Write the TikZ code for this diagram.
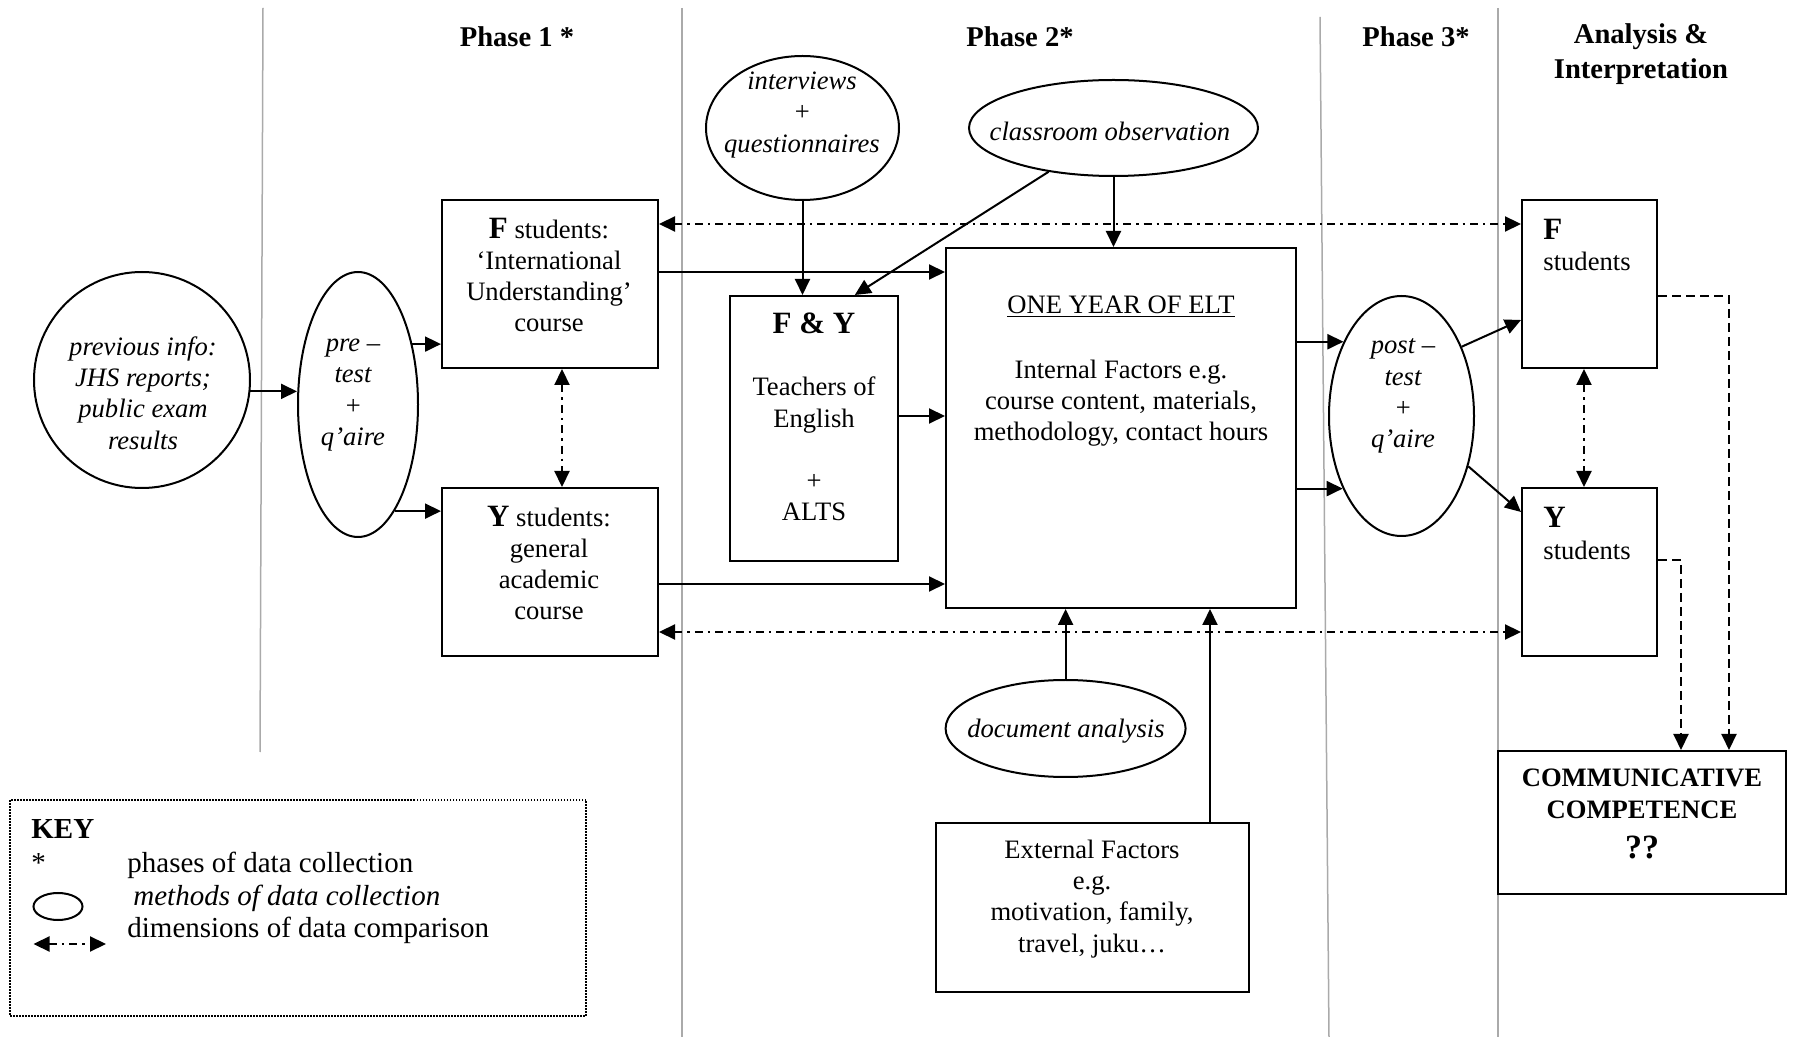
\documentclass[tikz,border=0pt]{standalone}
\usepackage{fontspec}
\setmainfont{Liberation Serif}
\usetikzlibrary{arrows.meta,shapes.geometric}
\definecolor{gline}{RGB}{170,170,170}
\newcommand{\dgBody}{\fontsize{13.3pt}{15.6pt}\selectfont}
\newcommand{\dgBig}{\fontsize{15.5pt}{15.6pt}\selectfont\bfseries}
\newcommand{\dgTitle}{\fontsize{14.3pt}{17.5pt}\selectfont\bfseries}
\newcommand{\dgKey}{\fontsize{14.5pt}{16pt}\selectfont}
\begin{document}
\begin{tikzpicture}[x=0.5pt,y=-0.5pt,
  >={Triangle[length=8pt,width=7.5pt]},
  shp/.style={draw, line width=1pt, inner sep=0pt},
  bx/.style={shp, rectangle},
  el/.style={shp, ellipse},
  t/.style={align=center, inner sep=0pt, font=\dgBody},
  it/.style={align=center, inner sep=0pt, font=\dgBody\itshape},
  kt/.style={inner sep=0pt, font=\dgKey, anchor=base west},
  ttl/.style={align=center, inner sep=0pt, font=\dgTitle},
  arr/.style={line width=1pt, ->},
  dd/.style={line width=1.1pt, <->, dash pattern=on 4pt off 2.5pt on 1.2pt off 2.5pt},
  dsh/.style={line width=1pt, ->, dash pattern=on 4.5pt off 2.5pt},
  gl/.style={draw=gline, line width=0.75pt}]
\useasboundingbox (0,0) rectangle (1796,1037);

% phase separators
\draw[gl] (263,8) -- (260,752);
\draw[gl] (682,8) -- (682,1037);
\draw[gl] (1320,17) -- (1329,1037);
\draw[gl] (1498,8) -- (1498,1037);

% titles
\node[ttl] (t1) at (517,37) {Phase 1 *};
\node[ttl] (t2) at (1020,37) {Phase 2*};
\node[ttl] (t3) at (1416,37) {Phase 3*};
\node[ttl] (t4) at (1641,54) {Analysis \&\\Interpretation};

% shapes
\node[el, minimum width=108pt, minimum height=108pt] (prev) at (142,380) {};
\node[el, minimum width=60pt, minimum height=132.5pt] (pre) at (358,404.5) {};
\node[bx, minimum width=108pt, minimum height=84pt] (Fbox) at (550,284) {};
\node[bx, minimum width=108pt, minimum height=84pt] (Ybox) at (550,572) {};
\node[el, minimum width=96.5pt, minimum height=72pt] (intv) at (802.5,128) {};
\node[el, minimum width=144.5pt, minimum height=48pt] (cobs) at (1113.5,128) {};
\node[bx, minimum width=84pt, minimum height=132.5pt] (FY) at (814,428.5) {};
\node[bx, minimum width=175pt, minimum height=180pt] (ELT) at (1121,428) {};
\node[el, minimum width=72.5pt, minimum height=120pt] (post) at (1401.5,416) {};
\node[bx, minimum width=67.5pt, minimum height=84pt] (Fres) at (1589.5,284) {};
\node[bx, minimum width=67.5pt, minimum height=84pt] (Yres) at (1589.5,572) {};
\node[bx, minimum width=144pt, minimum height=71.5pt] (CC) at (1642,822.5) {};
\node[el, minimum width=120pt, minimum height=48.5pt] (docan) at (1065.6,728.5) {};
\node[bx, minimum width=156.5pt, minimum height=84.5pt] (ext) at (1092.5,907.5) {};
\node[draw, line width=0.75pt, dash pattern=on 0.75pt off 0.75pt, inner sep=0pt,
      minimum width=288pt, minimum height=108pt] (key) at (298,908) {};
\node[el, minimum width=24.5pt, minimum height=13.5pt] (keyel) at (58,906.5) {};

% texts
\node[it] (prevT) at (143,393) {previous info:\\JHS reports;\\public exam\\results};
\node[it] (preT) at (353,395) {pre –\\test\\+\\q’aire};
\node[t] (FboxT) at (549,275) {{\dgBig F} students:\\‘International\\Understanding’\\course};
\node[t] (YboxT) at (549,563) {{\dgBig Y} students:\\general\\academic\\course};
\node[it] (intvT) at (802,115) {interviews\\+\\questionnaires};
\node[it] (cobsT) at (1110,131) {classroom observation};
\node[t] (FYT) at (814,417) {{\dgBig F \& Y}\\[15.6pt]Teachers of\\English\\[15.6pt]+\\ALTS};
\node[t] (ELTT) at (1121,371) {\underline{ONE YEAR OF ELT}\\[17pt]Internal Factors e.g.\\course content, materials,\\methodology, contact hours};
\node[it] (postT) at (1403,396) {post –\\test\\+\\q’aire};
\node[t, align=left, anchor=west] (FresT) at (1543,245) {{\dgBig F}\\students};
\node[t, align=left, anchor=west] (YresT) at (1543,533.5) {{\dgBig Y}\\students};
\node[t, font=\dgBody\bfseries] (CCT) at (1642,814) {COMMUNICATIVE\\COMPETENCE\\[4.5pt]{\fontsize{17pt}{15.6pt}\selectfont ??}};
\node[it] (docanT) at (1066,731) {document analysis};
\node[t] (extT) at (1092,899) {External Factors\\e.g.\\motivation, family,\\travel, juku…};

% key
\node[kt, font=\dgKey\bfseries] (keyT) at (31,839) {KEY};
\node[kt] (keyS) at (31,872) {*};
\node[kt] (keyA) at (127,872) {phases of data collection};
\node[kt, font=\dgKey\itshape] (keyB) at (133,905) {methods of data collection};
\node[kt] (keyC) at (127,937) {dimensions of data comparison};
\coordinate (kA) at (33.5,944);
\coordinate (kB) at (106,944);
\draw[dd] (kA) -- (kB);

% connectors
\draw[arr] (prev.-6.9) -- (prev.-6.9 -| pre.west);
\draw[arr] (pre.48) -- (pre.48 -| Fbox.west);
\draw[arr] (pre.-71.9) -- (pre.-71.9 -| Ybox.west);
\draw[dd] ([xshift=6pt]Fbox.south) -- ([xshift=6pt]Ybox.north);
\draw[dd] ([yshift=30pt]Fbox.east) -- ([yshift=30pt]Fbox.east -| Fres.west);
\draw[dd] ([yshift=-30pt]Ybox.east) -- ([yshift=-30pt]Ybox.east -| Yres.west);
\draw[arr] (intv.south) -- (intv.south |- FY.north);
\draw[arr] (cobs.214.7) -- (FY.73.6);
\draw[arr] (cobs.south) -- (cobs.south |- ELT.north);
\draw[arr] ([yshift=6pt]Fbox.east) -- ([yshift=6pt]Fbox.east -| ELT.west);
\draw[arr] ([yshift=6.25pt]FY.east) -- ([yshift=6.25pt]FY.east -| ELT.west);
\draw[arr] ([yshift=-6pt]Ybox.east) -- ([yshift=-6pt]Ybox.east -| ELT.west);
\draw[arr] (ELT.east |- post.128.85) -- (post.128.85);
\draw[arr] (ELT.east |- post.231.15) -- (post.231.15);
\draw[arr] (post.49.4) -- ([yshift=-18pt]Fres.west);
\draw[arr] (post.-37.5) -- ([yshift=30pt]Yres.west);
\draw[dd] ([xshift=-2.75pt]Fres.south) -- ([xshift=-2.75pt]Yres.north);
\draw[dsh] ([yshift=-6pt]Fres.east) -| ([xshift=43.5pt]CC.north);
\draw[dsh] ([yshift=6pt]Yres.east) -| ([xshift=19.5pt]CC.north);
\draw[arr] (docan.north) -- (docan.north |- ELT.south);
\draw[arr] ([xshift=58.75pt]ext.north) -- ([xshift=58.75pt]ext.north |- ELT.south);
\end{tikzpicture}
\end{document}
